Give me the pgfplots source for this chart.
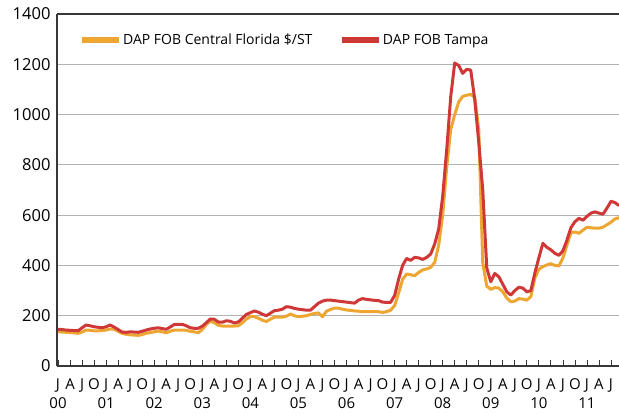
\documentclass[border=0pt]{standalone}
\usepackage{pgfplots}
\pgfplotsset{compat=1.18}
\usepackage{fontspec}
\setmainfont{Open Sans}
\definecolor{dapor}{RGB}{238,166,50}
\definecolor{dapred}{RGB}{208,56,56}
\definecolor{gridgray}{RGB}{178,178,178}
\definecolor{axgray}{RGB}{55,55,55}
\begin{document}
\begin{tikzpicture}
\begin{axis}[
  scale only axis, width=562pt, height=352pt,
  xmin=-0.25, xmax=140, ymin=0, ymax=1400,
  axis x line*=bottom, axis y line*=left,
  axis line style={draw=axgray, line width=1.6pt},
  ytick={0,200,...,1400},
  ymajorgrids, grid style={gridgray, line width=1.2pt},
  ytick style={draw=none},
  xtick={0,3,...,138},
  xticklabels={J,A,J,O,J,A,J,O,J,A,J,O,J,A,J,O,J,A,J,O,J,A,J,O,J,A,J,O,J,A,J,O,J,A,J,O,J,A,J,O,J,A,J,O,J,A,J},
  xtick align=inside,
  major tick length=6pt,
  xtick style={draw=axgray, line width=0.8pt},
  extra x ticks={0,12,...,132},
  extra x tick labels={00,01,02,03,04,05,06,07,08,09,10,11},
  extra x tick style={major tick length=0pt, xticklabel style={yshift=-18.5pt}},
  tick label style={font=\fontsize{15}{18}\selectfont},
  yticklabel style={xshift=-3pt, font=\fontsize{16.5}{18}\selectfont},
  xticklabel style={yshift=-9.5pt},
  /pgf/number format/assume math mode=true,
  /pgf/number format/1000 sep={},
  legend columns=2,
  legend style={draw=none, fill=none, at={(rel axis cs:0.039,0.926)}, anchor=west, inner sep=0pt,
    nodes={inner xsep=1.5pt},
    font=\fontsize{14}{16}\selectfont, /tikz/column 2/.style={column sep=25pt}},
  legend image code/.code={\draw[#1, line width=5.5pt] (0pt,0pt) -- (37pt,0pt);},
]
\addplot[dapor, line width=3pt, line join=round] coordinates {
(0,136)(1,135)(2,134)(3,133)(4,132)(5,130)(6,135)(7,143)(8,142)(9,140)(10,140)(11,141)
(12,143)(13,147)(14,146)(15,138)(16,130)(17,126)(18,124)(19,123)(20,122)(21,125)(22,130)(23,133)
(24,136)(25,139)(26,136)(27,132)(28,138)(29,143)(30,143)(31,143)(32,142)(33,138)(34,136)(35,132)
(36,145)(37,165)(38,178)(39,172)(40,162)(41,159)(42,159)(43,159)(44,159)(45,160)(46,172)(47,187)
(48,196)(49,196)(50,190)(51,182)(52,177)(53,186)(54,194)(55,194)(56,194)(57,198)(58,207)(59,200)
(60,196)(61,198)(62,200)(63,205)(64,209)(65,211)(66,196)(67,218)(68,225)(69,230)(70,230)(71,226)
(72,223)(73,221)(74,219)(75,218)(76,216)(77,216)(78,216)(79,216)(80,216)(81,213)(82,216)(83,222)
(84,240)(85,290)(86,345)(87,366)(88,363)(89,359)(90,372)(91,382)(92,386)(93,392)(94,412)(95,480)
(96,600)(97,790)(98,940)(99,1000)(100,1050)(101,1072)(102,1077)(103,1080)(104,1068)(105,940)(106,410)(107,318)
(108,305)(109,312)(110,310)(111,295)(112,270)(113,256)(114,258)(115,268)(116,266)(117,262)(118,276)(119,350)
(120,385)(121,395)(122,402)(123,407)(124,400)(125,398)(126,430)(127,480)(128,530)(129,533)(130,528)(131,540)
(132,552)(133,550)(134,548)(135,548)(136,552)(137,562)(138,572)(139,585)(140,590)
};
\addlegendentry{DAP FOB Central Florida \$/ST}
\addplot[dapred, line width=3pt, line join=round] coordinates {
(0,146)(1,145)(2,143)(3,142)(4,141)(5,140)(6,152)(7,163)(8,160)(9,156)(10,154)(11,152)
(12,156)(13,163)(14,155)(15,145)(16,135)(17,134)(18,136)(19,135)(20,134)(21,138)(22,143)(23,147)
(24,150)(25,152)(26,149)(27,146)(28,155)(29,165)(30,166)(31,166)(32,160)(33,152)(34,150)(35,150)
(36,158)(37,172)(38,187)(39,186)(40,175)(41,174)(42,180)(43,178)(44,171)(45,175)(46,190)(47,205)
(48,212)(49,219)(50,214)(51,206)(52,200)(53,210)(54,220)(55,222)(56,226)(57,236)(58,234)(59,229)
(60,226)(61,224)(62,222)(63,222)(64,236)(65,250)(66,258)(67,262)(68,262)(69,260)(70,258)(71,256)
(72,254)(73,252)(74,250)(75,262)(76,268)(77,265)(78,263)(79,261)(80,260)(81,254)(82,253)(83,253)
(84,280)(85,345)(86,400)(87,428)(88,420)(89,432)(90,430)(91,424)(92,432)(93,445)(94,485)(95,545)
(96,675)(97,860)(98,1070)(99,1205)(100,1195)(101,1164)(102,1180)(103,1177)(104,1060)(105,890)(106,700)(107,390)
(108,335)(109,368)(110,355)(111,325)(112,295)(113,282)(114,300)(115,313)(116,310)(117,295)(118,300)(119,370)
(120,430)(121,488)(122,472)(123,462)(124,448)(125,440)(126,458)(127,500)(128,550)(129,574)(130,587)(131,580)
(132,595)(133,608)(134,613)(135,608)(136,604)(137,628)(138,655)(139,650)(140,638)
};
\addlegendentry{DAP FOB Tampa}
\draw[axgray, line width=1.6pt] (rel axis cs:0,1) -- (rel axis cs:1,1);
\end{axis}
\pgfresetboundingbox
\useasboundingbox (-57pt,-47pt) rectangle (562pt,366pt);
\end{tikzpicture}
\end{document}
